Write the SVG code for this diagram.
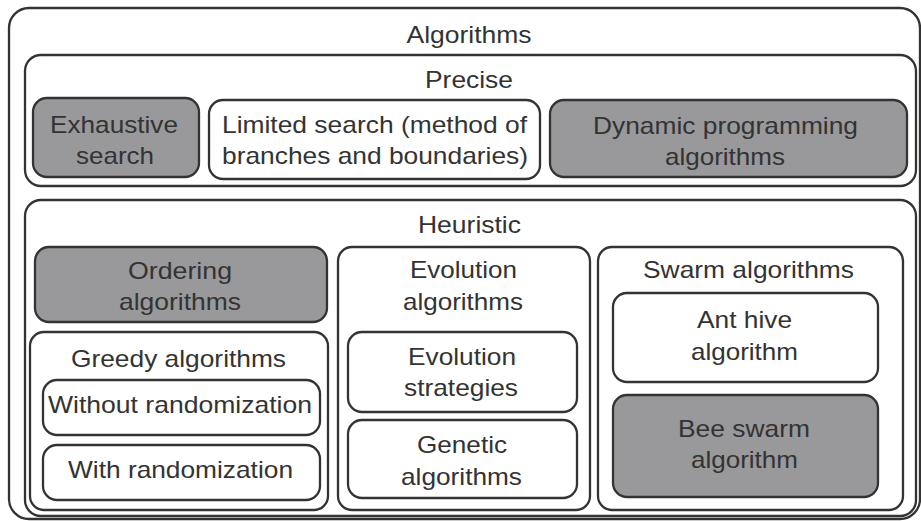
<svg xmlns="http://www.w3.org/2000/svg" width="921" height="521" viewBox="0 0 921 521">
<style>
.box{fill:#ffffff;stroke:#333333;stroke-width:2.3}
.dark{fill:#99999b;stroke:#333333;stroke-width:2.3}
text{font-family:"Liberation Sans",Arial,sans-serif;font-size:24px;fill:#333333;text-anchor:middle}
</style>
<rect width="921" height="521" fill="#ffffff"/>
<g id="algorithms">
<rect class="box" x="9" y="8" width="911" height="511" rx="20"/>
<text x="469" y="43" textLength="125" lengthAdjust="spacingAndGlyphs">Algorithms</text>
</g>
<g id="precise">
<rect class="box" x="25" y="55" width="891" height="131" rx="16"/>
<text x="469" y="88" textLength="88" lengthAdjust="spacingAndGlyphs">Precise</text>
</g>
<g id="exhaustive">
<rect class="dark" x="33" y="98" width="166" height="79" rx="14"/>
<text x="114" y="133" textLength="128" lengthAdjust="spacingAndGlyphs">Exhaustive</text>
<text x="115" y="164" textLength="78" lengthAdjust="spacingAndGlyphs">search</text>
</g>
<g id="limited">
<rect class="box" x="209" y="100" width="331" height="79" rx="14"/>
<text x="374.5" y="133" textLength="305" lengthAdjust="spacingAndGlyphs">Limited search (method of</text>
<text x="375" y="164" textLength="306" lengthAdjust="spacingAndGlyphs">branches and boundaries)</text>
</g>
<g id="dynamic">
<rect class="dark" x="550" y="100" width="357" height="77" rx="14"/>
<text x="725.5" y="134" textLength="265" lengthAdjust="spacingAndGlyphs">Dynamic programming</text>
<text x="725" y="165" textLength="120" lengthAdjust="spacingAndGlyphs">algorithms</text>
</g>
<g id="heuristic">
<rect class="box" x="25" y="200" width="891" height="316" rx="16"/>
<text x="469.5" y="233" textLength="103" lengthAdjust="spacingAndGlyphs">Heuristic</text>
</g>
<g id="ordering">
<rect class="dark" x="35" y="247" width="292" height="75" rx="14"/>
<text x="180" y="279" textLength="104" lengthAdjust="spacingAndGlyphs">Ordering</text>
<text x="180" y="310" textLength="122" lengthAdjust="spacingAndGlyphs">algorithms</text>
</g>
<g id="greedy">
<rect class="box" x="30" y="332" width="298" height="178" rx="14"/>
<text x="178.5" y="367" textLength="215" lengthAdjust="spacingAndGlyphs">Greedy algorithms</text>
</g>
<g id="without">
<rect class="box" x="43" y="380" width="277" height="55" rx="14"/>
<text x="180" y="413" textLength="264" lengthAdjust="spacingAndGlyphs">Without randomization</text>
</g>
<g id="with">
<rect class="box" x="43" y="445" width="277" height="55" rx="14"/>
<text x="180.5" y="478" textLength="225" lengthAdjust="spacingAndGlyphs">With randomization</text>
</g>
<g id="evolution">
<rect class="box" x="338" y="247" width="252" height="263" rx="14"/>
<text x="463.5" y="278" textLength="107" lengthAdjust="spacingAndGlyphs">Evolution</text>
<text x="463" y="310" textLength="120" lengthAdjust="spacingAndGlyphs">algorithms</text>
</g>
<g id="strategies">
<rect class="box" x="348" y="332" width="229" height="80" rx="14"/>
<text x="462" y="365" textLength="108" lengthAdjust="spacingAndGlyphs">Evolution</text>
<text x="461" y="396" textLength="114" lengthAdjust="spacingAndGlyphs">strategies</text>
</g>
<g id="genetic">
<rect class="box" x="348" y="420" width="229" height="78" rx="14"/>
<text x="462" y="453" textLength="90" lengthAdjust="spacingAndGlyphs">Genetic</text>
<text x="461.5" y="485" textLength="121" lengthAdjust="spacingAndGlyphs">algorithms</text>
</g>
<g id="swarm">
<rect class="box" x="598" y="247" width="305" height="263" rx="14"/>
<text x="748.5" y="278" textLength="211" lengthAdjust="spacingAndGlyphs">Swarm algorithms</text>
</g>
<g id="ant">
<rect class="box" x="613" y="293" width="265" height="89" rx="14"/>
<text x="744.5" y="328" textLength="95" lengthAdjust="spacingAndGlyphs">Ant hive</text>
<text x="744.5" y="360" textLength="107" lengthAdjust="spacingAndGlyphs">algorithm</text>
</g>
<g id="bee">
<rect class="dark" x="613" y="395" width="265" height="102" rx="14"/>
<text x="744" y="437" textLength="132" lengthAdjust="spacingAndGlyphs">Bee swarm</text>
<text x="744.5" y="468" textLength="107" lengthAdjust="spacingAndGlyphs">algorithm</text>
</g>
<g id="connectors"></g>
</svg>
